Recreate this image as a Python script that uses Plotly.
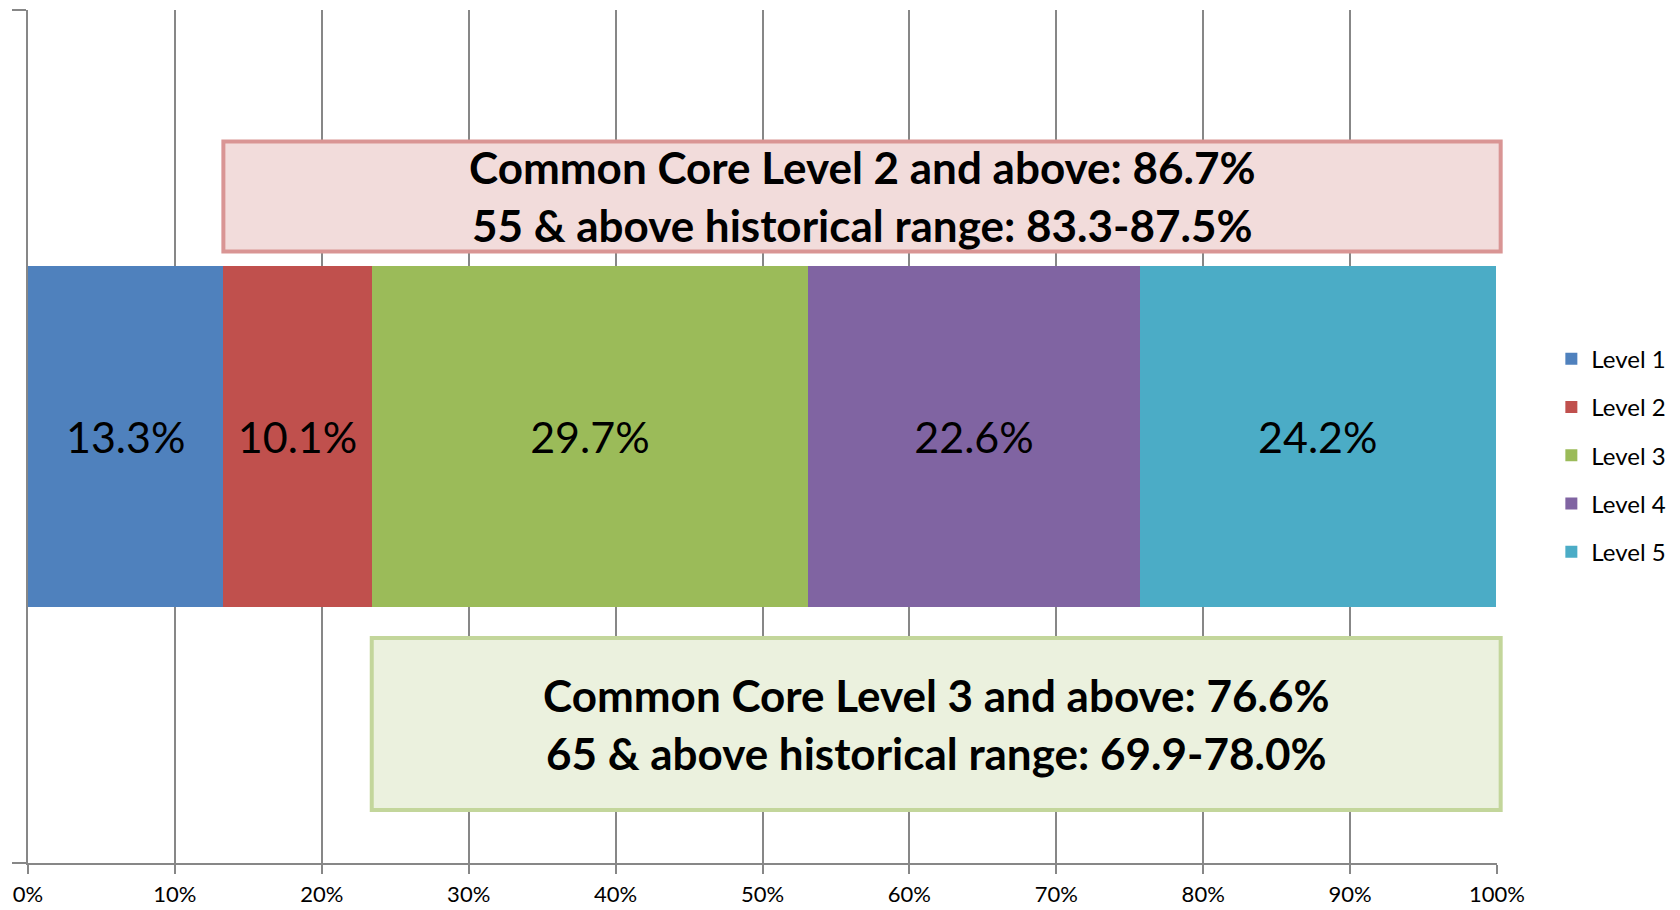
import plotly.graph_objects as go

levels = ["Level 1", "Level 2", "Level 3", "Level 4", "Level 5"]
values = [13.3, 10.1, 29.7, 22.6, 24.2]
labels = ["13.3%", "10.1%", "29.7%", "22.6%", "24.2%"]
colors = ["#4F81BD", "#C0504D", "#9BBB59", "#8064A2", "#4BACC6"]
tick_vals = [0, 0.1, 0.2, 0.3, 0.4, 0.5, 0.6, 0.7, 0.8, 0.9, 1.0]
tick_text = ["0%", "10%", "20%", "30%", "40%", "50%", "60%", "70%", "80%", "90%", "100%"]

box_top_lines = ["Common Core Level 2 and above: 86.7%", "55 & above historical range: 83.3-87.5%"]
box_bot_lines = ["Common Core Level 3 and above: 76.6%", "65 & above historical range: 69.9-78.0%"]

FONT = "Lato, 'Open Sans', sans-serif"

fig = go.Figure()
for name, v, lab, c in zip(levels, values, labels, colors):
    fig.add_trace(go.Bar(
        x=[v / 100], y=[0], orientation="h", name=name, width=0.4,
        marker=dict(color=c, line=dict(width=0)),
        text=[lab], textposition="inside", insidetextanchor="middle",
        textangle=0, constraintext="none",
        textfont=dict(family=FONT, size=43, color="#000000"),
        legendgroup=name, hoverinfo="skip",
    ))

# boxes start at the cumulative start of Level 2 / Level 3
start_l2 = values[0] / 100
start_l3 = (values[0] + values[1]) / 100
right = 1.0025

boxes = [
    (start_l2, right, 0.3459, 0.2169, "#D99594", "#F2DCDB", box_top_lines, [0.3155, 0.2476]),
    (start_l3, right, -0.2363, -0.4379, "#C3D69B", "#EBF1DE", box_bot_lines, [-0.3031, -0.3711]),
]
for x0, x1, y0, y1, lc, fc, lines, ys in boxes:
    # x axis spans exactly [0, 1], so paper coordinates equal data coordinates (avoids clipping)
    fig.add_shape(type="rect", xref="paper", yref="y", x0=x0, x1=x1, y0=y0, y1=y1,
                  line=dict(color=lc, width=4), fillcolor=fc, layer="above")
    for t, yy in zip(lines, ys):
        fig.add_annotation(x=(x0 + x1) / 2, y=yy, xref="paper", yref="y", text="<b>" + t + "</b>",
                           showarrow=False, xanchor="center", yanchor="middle",
                           font=dict(family=FONT, size=44, color="#000000"))

fig.update_layout(
    barmode="stack",
    width=1672, height=902,
    margin=dict(l=19.5, r=182.5, t=1.5, b=47.3, pad=0, autoexpand=False),
    plot_bgcolor="white", paper_bgcolor="white",
    font=dict(family=FONT, color="#000000"),
    bargap=0.6,
    legend=dict(x=1.037, y=0.478, xanchor="left", yanchor="middle",
                font=dict(family=FONT, size=24, color="#000000"),
                traceorder="grouped", tracegroupgap=14, bgcolor="rgba(0,0,0,0)"),
    showlegend=True,
)
fig.update_xaxes(
    range=[0, 1], tickvals=tick_vals, ticktext=tick_text,
    showgrid=True, gridcolor="#878787", gridwidth=1.5,
    showline=True, linecolor="#878787", linewidth=1.5,
    ticks="outside", ticklen=9, tickcolor="#878787", tickwidth=1.5,
    tickfont=dict(family=FONT, size=22, color="#000000"),
    ticklabelstandoff=2, automargin=False,
    zeroline=False,
)
fig.update_yaxes(
    range=[-0.5, 0.5], tickvals=[-0.5, 0.5], showticklabels=False,
    showgrid=False, zeroline=False, automargin=False,
    showline=True, linecolor="#878787", linewidth=1.5,
    ticks="outside", ticklen=14, tickcolor="#878787", tickwidth=1.5,
)

fig.write_html("out.html")
